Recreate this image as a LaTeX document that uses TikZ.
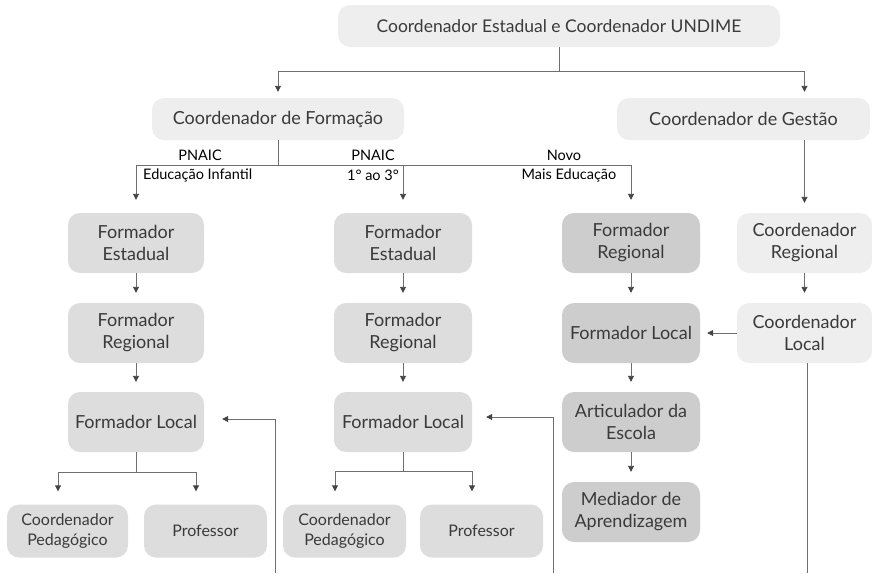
\documentclass[tikz,border=0pt]{standalone}
\usepackage{fontspec}
\setmainfont{Lato}
\usetikzlibrary{arrows.meta}
\definecolor{boxA}{HTML}{EEEEEE}
\definecolor{boxB}{HTML}{DDDDDD}
\definecolor{boxC}{HTML}{CDCDCD}
\definecolor{linec}{HTML}{6E6E6E}
\definecolor{tipc}{HTML}{444444}
\definecolor{txt}{HTML}{3A3A3A}
\begin{document}
\begin{tikzpicture}[x=1pt,y=-1pt,
  box/.style={rounded corners=12pt, text=txt, align=center, inner sep=0pt,
    font=\fontsize{18}{22}\selectfont},
  lite/.style={box, fill=boxA},
  mid/.style={box, fill=boxB},
  dark/.style={box, fill=boxC},
  big/.style={minimum width=136pt, minimum height=60pt},
  small/.style={minimum width=122pt, minimum height=53pt, font=\fontsize{16}{19.5}\selectfont},
  ln/.style={draw=linec, line width=0.9pt},
  arr/.style={ln, -{Triangle[length=6pt,width=6pt,color=tipc]}, shorten >=10pt},
  lab/.style={inner sep=0pt, text=black, font=\fontsize{14.5}{17}\selectfont}
]
\useasboundingbox (0,0) rectangle (872,573);

% top level
\node[lite, minimum width=442pt, minimum height=42pt, font=\fontsize{17.5}{21}\selectfont] (top) at (559,26) {Coordenador Estadual e Coordenador UNDIME};
\node[lite, minimum width=252pt, minimum height=42pt] (form) at (278,119) {Coordenador de Formação};
\node[lite, minimum width=253pt, minimum height=42pt] (ges) at (743.5,119) {Coordenador de Gestão};

% column 1
\node[mid, big] (fe1) at (136,243) {Formador\\Estadual};
\node[mid, big] (fr1) at (136,333) {Formador\\Regional};
\node[mid, big] (fl1) at (136,422) {Formador Local};
\node[mid, small, minimum width=121pt] (cp1) at (67.5,531) {Coordenador\\Pedagógico};
\node[mid, small, minimum width=123pt] (pr1) at (205.5,531) {Professor};

% column 2
\node[mid, big, minimum width=138pt] (fe2) at (403,243) {Formador\\Estadual};
\node[mid, big, minimum width=138pt] (fr2) at (403,333) {Formador\\Regional};
\node[mid, big, minimum width=138pt] (fl2) at (403,422) {Formador Local};
\node[mid, small, minimum width=123pt] (cp2) at (344.5,531) {Coordenador\\Pedagógico};
\node[mid, small, minimum width=123pt] (pr2) at (481.5,531) {Professor};

% column 3
\node[dark, big, minimum width=138pt] (fr3) at (631,243) {Formador\\Regional};
\node[dark, big, minimum width=138pt] (fl3) at (631,333) {Formador Local};
\node[dark, big, minimum width=138pt] (ar3) at (631,422) {Articulador da\\Escola};
\node[dark, big, minimum width=138pt] (me3) at (631,512) {Mediador de\\Aprendizagem};

% column 4
\node[lite, big, minimum width=135pt] (cr4) at (804.5,243) {Coordenador\\Regional};
\node[lite, big, minimum width=135pt] (cl4) at (804.5,333) {Coordenador\\Local};

% junctions and free ends
\coordinate (jt) at (559,71);
\coordinate (jf) at (278,165);
\coordinate (j1) at (136,472);
\coordinate (j2) at (403,471);
\coordinate (e1) at (275,573);
\coordinate (e2) at (553,573);
\coordinate (e4) at (807,573);

% top connectors
\draw[ln] (top.south) -- (jt);
\draw[arr, shorten >=6pt] (jt) -| (form.north);
\draw[arr, shorten >=6pt] (jt) -| (ges.north -| cr4.north);
\draw[arr] (ges.south -| cr4.north) -- (cr4.north);

% formação branches
\draw[ln] (form.south) -- (jf);
\draw[arr, shorten >=13pt] (jf) -| (fe1.north);
\draw[arr, shorten >=13pt] (jf) -| (fe2.north);
\draw[arr, shorten >=13pt] (jf) -| (fr3.north);

\node[lab] (l1a) at (200,155) {PNAIC};
\node[lab, anchor=west] (l1b) at (143,175) {Educação Infantil};
\node[lab] (l2a) at (373,155) {PNAIC};
\node[lab, anchor=east] (l2b) at (399,175) {1° ao 3°};
\node[lab] (l3a) at (564,155) {Novo};
\node[lab] (l3b) at (569,175) {Mais Educação};

% column chains
\draw[arr] (fe1.south) -- (fr1.north);
\draw[arr] (fr1.south) -- (fl1.north);
\draw[ln] (fl1.south) -- (j1);
\draw[arr, shorten >=13pt] (j1) -| ([xshift=-9.5pt]cp1.north);
\draw[arr, shorten >=13pt] (j1) -| ([xshift=-9.5pt]pr1.north);

\draw[arr] (fe2.south) -- (fr2.north);
\draw[arr] (fr2.south) -- (fl2.north);
\draw[ln] (fl2.south) -- (j2);
\draw[arr, shorten >=13pt] (j2) -| ([xshift=-9.5pt]cp2.north);
\draw[arr, shorten >=13pt] (j2) -| ([xshift=-9.5pt]pr2.north);

\draw[arr] (fr3.south) -- (fl3.north);
\draw[arr] (fl3.south) -- (ar3.north);
\draw[arr] (ar3.south) -- (me3.north);

\draw[arr] (cr4.south) -- (cl4.north);
\draw[arr, shorten >=7pt] (cl4.west) -- (fl3.east);
\draw[ln] (cl4.south -| e4) -- (e4);

% side feeds
\draw[arr, shorten >=18pt] (e1) |- ([yshift=3pt]fl1.east);
\draw[arr, shorten >=14pt] (e2) |- ([yshift=5pt]fl2.east);
\end{tikzpicture}
\end{document}
